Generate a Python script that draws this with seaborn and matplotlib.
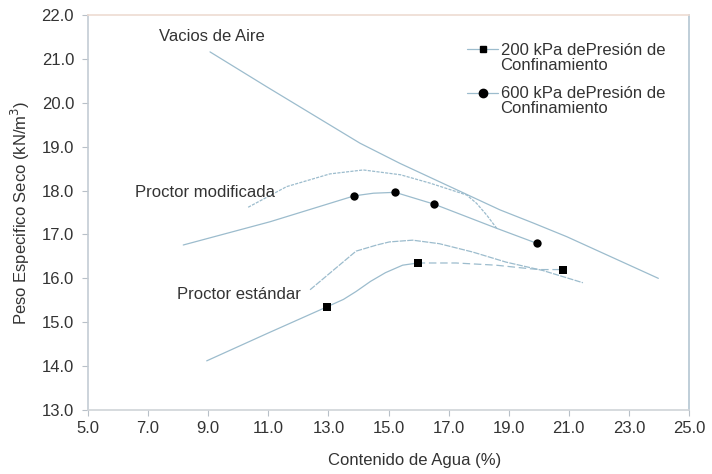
import matplotlib
matplotlib.use("Agg")
import matplotlib.pyplot as plt
import matplotlib.transforms as mtransforms
from matplotlib.lines import Line2D
from matplotlib.legend_handler import HandlerLine2D
import seaborn as sns

# Measured compaction points
w_200 = [12.95, 15.97, 20.82]
g_200 = [15.35, 16.35, 16.20]
w_600 = [13.86, 15.22, 16.52, 19.93]
g_600 = [17.88, 17.96, 17.69, 16.80]

# Fitted curve through the 200 kPa points (extended to the dry side)
w_200_curve = [8.95, 10.95, 12.95, 13.50, 13.92, 14.40, 14.90, 15.47, 15.97]
g_200_curve = [14.12, 14.74, 15.35, 15.52, 15.70, 15.93, 16.13, 16.30, 16.35]
w_200_wet = [15.97, 17.25, 18.58, 19.69, 20.04, 20.82]
g_200_wet = [16.35, 16.35, 16.30, 16.22, 16.20, 16.20]

# Fitted curve through the 600 kPa points (extended to the dry side)
w_600_curve = [8.17, 11.06, 13.86, 14.50, 15.22, 16.52, 18.60, 19.93]
g_600_curve = [16.76, 17.29, 17.88, 17.94, 17.96, 17.69, 17.14, 16.80]

# Reference Proctor curves
w_mod = [10.33, 11.61, 13.05, 14.16, 15.40, 16.38, 17.60, 17.93, 18.27, 18.60]
g_mod = [17.62, 18.09, 18.38, 18.47, 18.36, 18.17, 17.90, 17.71, 17.44, 17.14]
w_std = [12.39, 13.92, 14.61, 15.03, 15.80, 16.69, 17.80, 18.91, 20.13, 21.47]
g_std = [15.74, 16.62, 16.76, 16.83, 16.87, 16.79, 16.60, 16.37, 16.18, 15.90]

# Zero air voids line
w_zav = [9.06, 10.96, 14.05, 15.38, 18.71, 19.82, 20.93, 23.98]
g_zav = [21.16, 20.36, 19.08, 18.62, 17.56, 17.26, 16.95, 16.00]

x_ticks = [5.0, 7.0, 9.0, 11.0, 13.0, 15.0, 17.0, 19.0, 21.0, 23.0, 25.0]
y_ticks = [13.0, 14.0, 15.0, 16.0, 17.0, 18.0, 19.0, 20.0, 21.0, 22.0]

sns.set_theme(style="white")
plt.rcParams["font.family"] = ["Liberation Sans", "DejaVu Sans"]

fig = plt.figure(figsize=(7.12, 4.74), dpi=100)
ax = fig.add_axes([0.1236, 0.135, 0.8441, 0.8333])

line_c = "#9cbccd"
txt_c = "#333333"
fs = 12


def curve(w, g, **kw):
    sns.lineplot(x=w, y=g, ax=ax, color=line_c, linewidth=0.9, sort=False,
                 estimator=None, legend=False, **kw)


curve(w_zav, g_zav)
curve(w_mod, g_mod, linestyle=(0, (2.5, 1)))
curve(w_std, g_std, linestyle=(0, (5, 1)))
curve(w_600_curve, g_600_curve)
curve(w_200_curve, g_200_curve)
curve(w_200_wet, g_200_wet, linestyle=(0, (6, 3)))

sns.scatterplot(x=w_200, y=g_200, ax=ax, marker="s", color="black", s=28,
                edgecolor="black", linewidth=0, zorder=5, legend=False)
sns.scatterplot(x=w_600, y=g_600, ax=ax, marker="o", color="black", s=36,
                edgecolor="black", linewidth=0, zorder=5, legend=False)


class FirstLineHandler(HandlerLine2D):
    """Places the legend handle beside the first line of a two-line label."""

    def create_artists(self, legend, orig_handle, xdescent, ydescent,
                       width, height, fontsize, trans):
        arts = super().create_artists(legend, orig_handle, xdescent, ydescent,
                                      width, height, fontsize, trans)
        shift = mtransforms.Affine2D().translate(0, 0.5 * fontsize)
        for a in arts:
            a.set_transform(shift + trans)
        return arts


handles = [
    Line2D([], [], color=line_c, lw=0.9, marker="s", markersize=5,
           markerfacecolor="black", markeredgecolor="black"),
    Line2D([], [], color=line_c, lw=0.9, marker="o", markersize=6,
           markerfacecolor="black", markeredgecolor="black"),
]
leg = ax.legend(handles, ["200 kPa dePresión de\nConfinamiento",
                          "600 kPa dePresión de\nConfinamiento"],
                handler_map={Line2D: FirstLineHandler()},
                loc="upper left", bbox_to_anchor=(0.606, 0.968), frameon=False,
                fontsize=fs, handlelength=1.85, handletextpad=0.15,
                labelspacing=0.8, labelcolor=txt_c, borderpad=0.4)
for t in leg.get_texts():
    t.set_linespacing(1.0)

ax.text(7.36, 21.50, "Vacios de Aire", fontsize=fs, color=txt_c, va="center")
ax.text(6.56, 17.95, "Proctor modificada", fontsize=fs, color=txt_c, va="center")
ax.text(7.96, 15.63, "Proctor estándar", fontsize=fs, color=txt_c, va="center")

ax.set_xlim(5.0, 25.0)
ax.set_ylim(13.0, 22.0)
ax.set_xticks(x_ticks)
ax.set_yticks(y_ticks)
ax.set_xticklabels([f"{v:.1f}" for v in x_ticks])
ax.set_yticklabels([f"{v:.1f}" for v in y_ticks])
ax.tick_params(axis="both", direction="out", length=4, width=0.8,
               color="#b8c0c8", labelsize=fs, labelcolor=txt_c,
               bottom=True, left=True)
ax.tick_params(axis="y", pad=6)
ax.tick_params(axis="x", pad=4)

ax.set_xlabel("Contenido de Agua (%)", fontsize=fs, color=txt_c)
ax.set_ylabel("Peso Especifico Seco (kN/m$^3$)", fontsize=fs, color=txt_c)
ax.xaxis.set_label_coords(0.543, -0.109)
ax.yaxis.set_label_coords(-0.093, 0.5)

ax.spines["left"].set_color("#c4ccd4")
ax.spines["bottom"].set_color("#d0d4d8")
ax.spines["top"].set_color("#eedcd2")
ax.spines["right"].set_color("#b4c6d2")
for s in ax.spines.values():
    s.set_linewidth(1.2)

fig.savefig("out.png", dpi=100)
